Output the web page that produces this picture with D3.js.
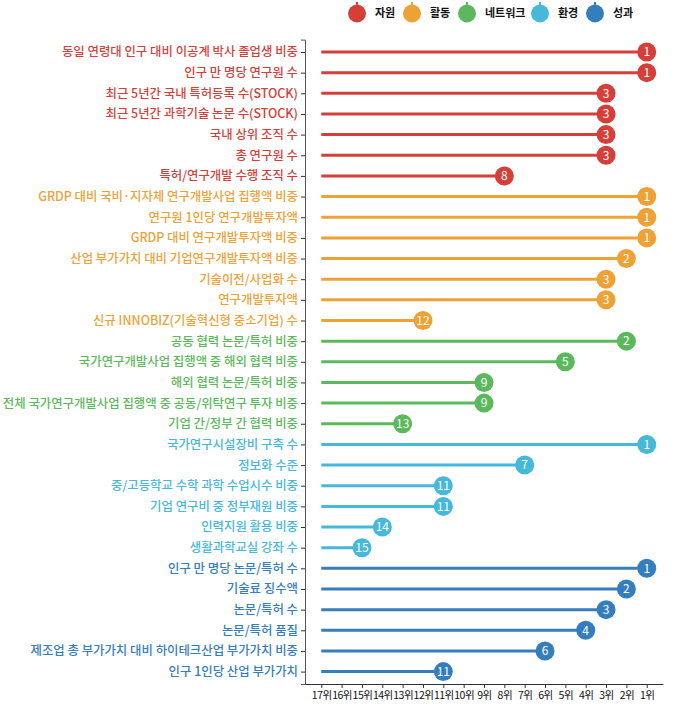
<!DOCTYPE html>
<html><head><meta charset="utf-8">
<script src="https://cdn.jsdelivr.net/npm/d3@7"></script>
<style>
body{margin:0;background:#fff;}
text{font-family:"Noto Sans CJK KR","Noto Sans",sans-serif;}
</style></head>
<body><svg id="c" width="696" height="705"></svg>
<script>
const groups = ["자원","활동","네트워크","환경","성과"];
const groupColors = ["#d43f3a","#eea236","#5cb85c","#46b8da","#357ebd"];
const indicators = [
 "동일 연령대 인구 대비 이공계 박사 졸업생 비중","인구 만 명당 연구원 수","최근 5년간 국내 특허등록 수(STOCK)","최근 5년간 과학기술 논문 수(STOCK)","국내 상위 조직 수","총 연구원 수","특허/연구개발 수행 조직 수",
 "GRDP 대비 국비·지자체 연구개발사업 집행액 비중","연구원 1인당 연구개발투자액","GRDP 대비 연구개발투자액 비중","산업 부가가치 대비 기업연구개발투자액 비중","기술이전/사업화 수","연구개발투자액","신규 INNOBIZ(기술혁신형 중소기업) 수",
 "공동 협력 논문/특허 비중","국가연구개발사업 집행액 중 해외 협력 비중","해외 협력 논문/특허 비중","전체 국가연구개발사업 집행액 중 공동/위탁연구 투자 비중","기업 간/정부 간 협력 비중",
 "국가연구시설장비 구축 수","정보화 수준","중/고등학교 수학 과학 수업시수 비중","기업 연구비 중 정부재원 비중","인력지원 활용 비중","생활과학교실 강좌 수",
 "인구 만 명당 논문/특허 수","기술료 징수액","논문/특허 수","논문/특허 품질","제조업 총 부가가치 대비 하이테크산업 부가가치 비중","인구 1인당 산업 부가가치"
];
const indicatorGroup = [0,0,0,0,0,0,0, 1,1,1,1,1,1,1, 2,2,2,2,2, 3,3,3,3,3,3, 4,4,4,4,4,4];
const ranks = [1,1,3,3,3,3,8, 1,1,1,2,3,3,12, 2,5,9,9,13, 1,7,11,11,14,15, 1,2,3,4,6,11];
const rankTicks = d3.range(17,0,-1);

const svg = d3.select("#c");
const L=305, R=663, T=39.6, B=684;
const x = d3.scaleLinear().domain([17.8,0.2]).range([L,R]);
const y = d3.scalePoint().domain(indicators).range([T,B]).padding(0.6);
const color = i => groupColors[indicatorGroup[i]];

// y axis
const gy = svg.append("g").attr("transform",`translate(${L},0)`)
  .call(d3.axisLeft(y).tickSize(4).tickPadding(3));
gy.select(".domain").attr("stroke","#555");
gy.selectAll(".tick line").attr("stroke","#333");
gy.selectAll(".tick text").attr("font-size","12.4px").attr("font-weight",500)
  .attr("fill",(d,i)=>color(i));

// x axis
const gx = svg.append("g").attr("transform",`translate(0,${B})`)
  .call(d3.axisBottom(x).tickValues(rankTicks).tickFormat(d=>d+"위").tickSize(4).tickPadding(4).tickSizeOuter(0));
gx.select(".domain").attr("stroke","#333");
gx.selectAll(".tick line").attr("stroke","#333");
gx.selectAll(".tick text").attr("font-size","10.5px").attr("letter-spacing","-0.5px").attr("fill","#111");

// lollipops
const g = svg.append("g");
indicators.forEach((d,i)=>{
  g.append("line").attr("x1",x(17)).attr("x2",x(ranks[i]))
   .attr("y1",y(d)).attr("y2",y(d)).attr("stroke",color(i)).attr("stroke-width",3);
});
indicators.forEach((d,i)=>{
  g.append("circle").attr("cx",x(ranks[i])).attr("cy",y(d)).attr("r",9.5).attr("fill",color(i));
  g.append("text").attr("x",x(ranks[i])).attr("y",y(d)).attr("dy","0.36em")
   .attr("text-anchor","middle").attr("fill","#fff").attr("font-size","12px").text(ranks[i]);
});

// legend
const legendX = [357,412,467,540,595];
const lg = svg.append("g");
groups.forEach((gname,i)=>{
  lg.append("line").attr("x1",legendX[i]).attr("x2",legendX[i]).attr("y1",2).attr("y2",8)
    .attr("stroke",groupColors[i]).attr("stroke-width",2);
  lg.append("circle").attr("cx",legendX[i]).attr("cy",13.5).attr("r",9).attr("fill",groupColors[i]);
  lg.append("text").attr("x",legendX[i]+18).attr("y",13.5).attr("dy","0.35em")
    .attr("font-size","11px").attr("font-weight",700).attr("fill","#111").text(gname);
});
</script></body></html>
